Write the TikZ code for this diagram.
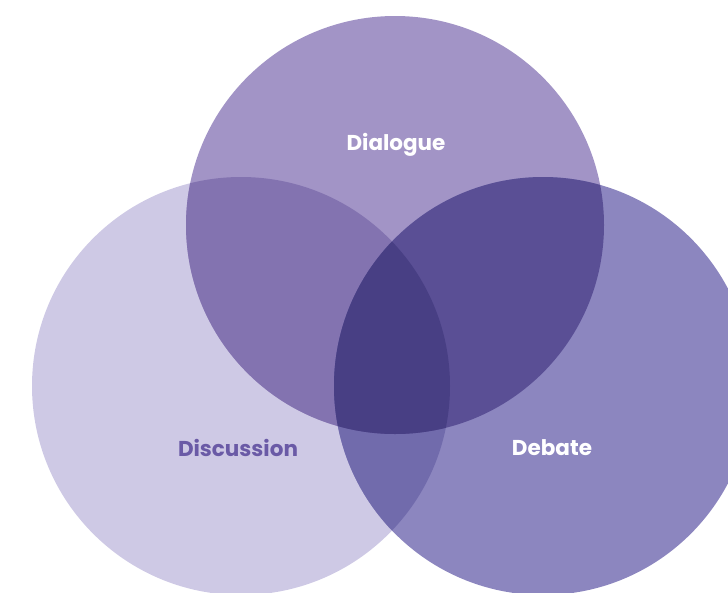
\documentclass[tikz,border=0pt]{standalone}
\usepackage{fontspec}
\setmainfont{Poppins}
\definecolor{discuss}{HTML}{CEC9E5}
\definecolor{dialog}{HTML}{A294C6}
\definecolor{debate}{HTML}{8C86BF}
\definecolor{discdial}{HTML}{8373B0}
\definecolor{dialdeb}{HTML}{5A4F95}
\definecolor{discdeb}{HTML}{716BAC}
\definecolor{allthree}{HTML}{483F84}
\definecolor{disctext}{HTML}{6A5AA6}
\tikzset{label/.style={font=\bfseries\fontsize{21.5}{25}\selectfont}}
\begin{document}
\begin{tikzpicture}[x=1pt,y=-1pt]
\useasboundingbox (0,0) rectangle (728,592);
\clip (0,0) rectangle (728,592);

\fill[discuss] (241,386) circle (209);
\fill[dialog] (395,225) circle (209);
\fill[debate] (543,386) circle (209);

\begin{scope}
\clip (241,386) circle (209);
\fill[discdial] (395,225) circle (209);
\fill[discdeb] (543,386) circle (209);
\end{scope}

\begin{scope}
\clip (395,225) circle (209);
\fill[dialdeb] (543,386) circle (209);
\clip (241,386) circle (209);
\fill[allthree] (543,386) circle (209);
\end{scope}

\node[label,white] (dialogue) at (396,145) {Dialogue};
\node[label,disctext] (discussion) at (238,448) {Discussion};
\node[label,white] (debatetext) at (552,448) {Debate};
\end{tikzpicture}
\end{document}
